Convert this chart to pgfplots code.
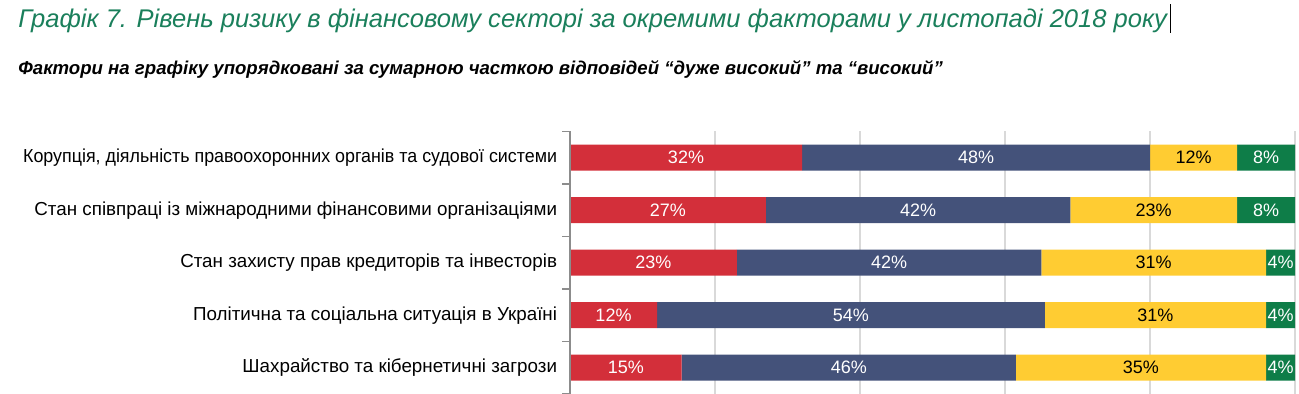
\documentclass[border=0pt]{standalone}
\usepackage{pgfplots}
\pgfplotsset{compat=1.18}
\usepackage{pgfplotstable}
\usepackage{fontspec}
\setmainfont{Liberation Sans}
\definecolor{cred}{RGB}{211,47,58}
\definecolor{cblue}{RGB}{68,82,122}
\definecolor{cyellow}{RGB}{255,204,50}
\definecolor{cgreen}{RGB}{14,125,72}
\definecolor{ctitle}{RGB}{26,127,91}
\definecolor{cgrid}{RGB}{217,217,217}
\definecolor{caxis}{RGB}{140,140,140}

\pgfplotstableread{
y a b c d
0 32 48 12 8
1 27 42 23 8
2 23 42 31 4
3 12 53.5 30.5 4
4 15.4 46.1 34.5 4
}\bars

\pgfplotstableread{
y ca la cb lb cc lc cd ld
0 16 32 56 48 86 12 96 8
1 13.5 27 48 42 80.5 23 96 8
2 11.5 23 44 42 80.5 31 98 4
3 6 12 38.75 54 80.75 31 98 4
4 7.7 15 38.45 46 78.75 35 98 4
}\labels

\begin{document}
\begin{tikzpicture}
\path[use as bounding box] (0,0) rectangle (649.5pt,197pt);
\node[anchor=base west, inner sep=0pt, text=ctitle, font=\fontsize{12.78}{15}\selectfont\itshape] at (9pt,183pt)
  {Графік 7. Рівень ризику в фінансовому секторі за окремими факторами у листопаді 2018 року};
\draw[line width=0.5pt] (585pt,180.5pt) -- (585pt,195pt);
\node[anchor=base west, inner sep=0pt, font=\fontsize{9.3}{11}\selectfont\bfseries\itshape] at (9pt,159.5pt)
  {Фактори на графіку упорядковані за сумарною часткою відповідей “дуже високий” та “високий”};

\begin{axis}[
  at={(285pt,0pt)}, anchor=south west,
  scale only axis, width=362.5pt, height=131.25pt,
  xmin=0, xmax=100, ymin=-0.5, ymax=4.5, y dir=reverse,
  xbar stacked, bar width=13pt,
  axis line style={draw=none},
  xtick={0,20,...,100}, xticklabels={}, xmajorgrids,
  major grid style={cgrid, line width=0.6pt},
  major x tick style={draw=none},
  ytick={0,1,2,3,4},
  yticklabels={{\scalebox{0.95}[1]{Корупція, діяльність правоохоронних органів та судової системи}},
    {Стан співпраці із міжнародними фінансовими організаціями},
    {Стан захисту прав кредиторів та інвесторів},
    {Політична та соціальна ситуація в Україні},
    {Шахрайство та кібернетичні загрози}},
  major y tick style={draw=none},
  minor ytick={-0.5,0.5,...,4.5},
  minor tick length=4pt, tick align=outside,
  minor y tick style={caxis, line width=0.6pt},
  ytick pos=left,
  yticklabel style={font=\fontsize{9.4}{11}\selectfont, inner xsep=0pt, xshift=-2pt},
  extra description/.code={\draw[caxis, line width=0.6pt] (rel axis cs:0,0) -- (rel axis cs:0,1);},
  clip=false,
]
\addplot[fill=cred, draw=none] table[x=a, y=y] {\bars};
\addplot[fill=cblue, draw=none] table[x=b, y=y] {\bars};
\addplot[fill=cyellow, draw=none] table[x=c, y=y] {\bars};
\addplot[fill=cgreen, draw=none] table[x=d, y=y] {\bars};
\end{axis}

\begin{axis}[
  at={(285pt,0pt)}, anchor=south west,
  scale only axis, width=362.5pt, height=131.25pt,
  xmin=0, xmax=100, ymin=-0.5, ymax=4.5, y dir=reverse,
  axis lines=none, clip=false,
  /pgf/number format/assume math mode=true,
  nodes near coords={\pgfmathprintnumber[fixed,precision=0,assume math mode=true]{\pgfplotspointmeta}\%},
  every node near coord/.append style={anchor=center, font=\fontsize{9}{10}\selectfont, inner sep=0pt},
  point meta=explicit,
]
\addplot[draw=none, mark=none, nodes near coords style={text=white}] table[x=ca, y=y, meta=la] {\labels};
\addplot[draw=none, mark=none, nodes near coords style={text=white}] table[x=cb, y=y, meta=lb] {\labels};
\addplot[draw=none, mark=none, nodes near coords style={text=black}] table[x=cc, y=y, meta=lc] {\labels};
\addplot[draw=none, mark=none, nodes near coords style={text=white}] table[x=cd, y=y, meta=ld] {\labels};
\end{axis}
\end{tikzpicture}
\end{document}
